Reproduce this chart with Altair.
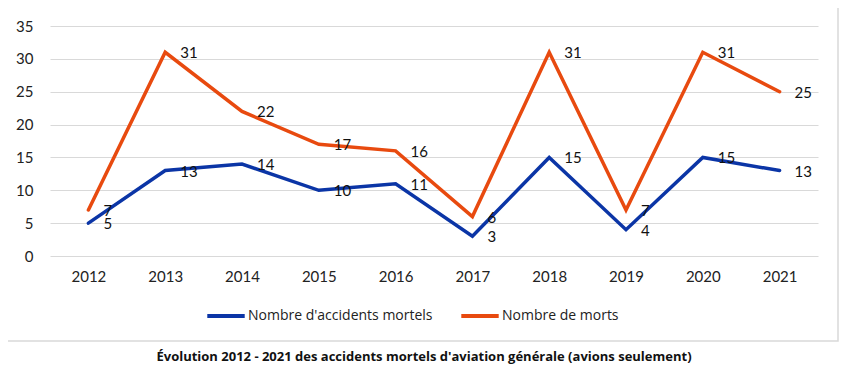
import altair as alt
import pandas as pd

years = ["2012", "2013", "2014", "2015", "2016", "2017", "2018", "2019", "2020", "2021"]
accidents = [5, 13, 14, 10, 11, 3, 15, 4, 15, 13]
morts = [7, 31, 22, 17, 16, 6, 31, 7, 31, 25]
series = ["Nombre d'accidents mortels", "Nombre de morts"]
colors = ["#0b35a6", "#e84a0f"]
y_ticks = [0, 5, 10, 15, 20, 25, 30, 35]
title_text = "Évolution 2012 - 2021 des accidents mortels d'aviation générale (avions seulement)"

rows = []
for i, yr in enumerate(years):
    rows.append({"annee": yr, "serie": series[0], "valeur": accidents[i]})
    rows.append({"annee": yr, "serie": series[1], "valeur": morts[i]})
df = pd.DataFrame(rows)

W, H = 768, 230

x = alt.X("annee:N", scale=alt.Scale(type="point", padding=0.5), sort=years,
          axis=alt.Axis(title=None, labelAngle=0, ticks=False, domain=False, grid=False,
                        labelPadding=13, labelFont="Lato", labelFontSize=15, labelColor="#222"))
y = alt.Y("valeur:Q", scale=alt.Scale(domain=[0, 35], nice=False, zero=True),
          axis=alt.Axis(title=None, values=y_ticks, tickCount=8, ticks=False, domain=False,
                        gridColor="#d9d9d9", gridWidth=1.2, labelPadding=17,
                        labelFont="Lato", labelFontSize=15, labelColor="#222"))
color = alt.Color("serie:N", scale=alt.Scale(domain=series, range=colors),
                  legend=alt.Legend(title=None, orient="none", direction="horizontal",
                                    legendX=155, legendY=269,
                                    symbolType="stroke", symbolStrokeWidth=4, symbolSize=1400,
                                    labelOffset=1, columnPadding=20,
                                    labelFont="Open Sans", labelFontSize=14, labelColor="#222",
                                    labelLimit=400))

border = alt.Chart(pd.DataFrame({"a": [0]})).mark_rect(
    fill=None, stroke="#d9d9d9", strokeWidth=1.5
).encode(x=alt.value(-44), x2=alt.value(788), y=alt.value(-20), y2=alt.value(315))

lines = alt.Chart(df).mark_line(strokeWidth=3.5, strokeCap="round").encode(x=x, y=y, color=color)

labels = alt.Chart(df).mark_text(align="left", baseline="middle", dx=15, dy=1,
                                 font="Lato", fontSize=15, color="#111").encode(
    x=x, y=y, text="valeur:Q")

chart = alt.layer(border, lines, labels).properties(
    width=W, height=H,
    autosize=alt.AutoSizeParams(type="none"),
    padding={"left": 42, "top": 18, "right": 24, "bottom": 110},
    title=alt.TitleParams(title_text, orient="bottom", anchor="middle", offset=9, dx=-10,
                          font="Open Sans", fontSize=13, fontWeight="bold", color="#111"),
).configure_view(stroke=None)

chart.save("out.html", embed_options={"renderer": "svg", "actions": False})
